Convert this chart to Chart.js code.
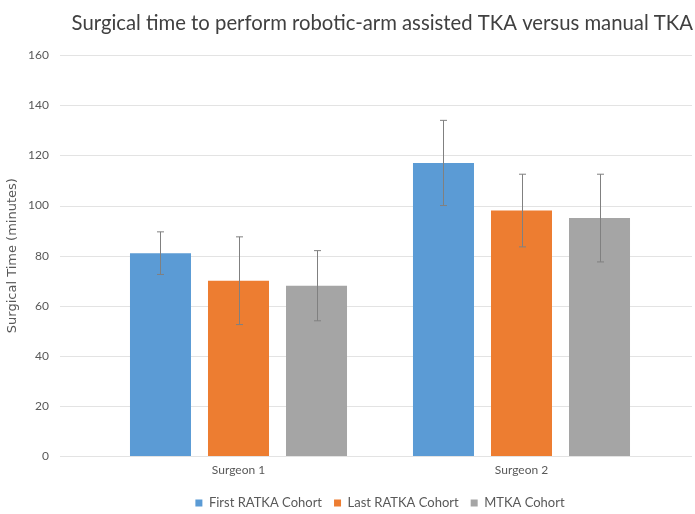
<!DOCTYPE html>
<html>
<head>
<meta charset="utf-8">
<script src="https://cdn.jsdelivr.net/npm/chart.js@4/dist/chart.umd.min.js"></script>
<style>
  html, body { margin: 0; padding: 0; background: #ffffff; }
  #wrap { width: 695px; height: 514px; }
</style>
</head>
<body>
<div id="wrap"><canvas id="c" width="695" height="514"></canvas></div>
<script>
const categories = ["Surgeon 1", "Surgeon 2"];
const seriesNames = ["First RATKA Cohort", "Last RATKA Cohort", "MTKA Cohort"];
const firstRatka = [81, 117];
const lastRatka = [70, 98];
const mtka = [68, 95];
const firstRatkaErr = [8.5, 17];
const lastRatkaErr = [17.5, 14.5];
const mtkaErr = [14, 17.5];
const yTicks = [0, 20, 40, 60, 80, 100, 120, 140, 160];
const titleText = "Surgical time to perform robotic-arm assisted TKA versus manual TKA";
const yTitle = "Surgical Time (minutes)";

const colors = ["#5B9BD5", "#ED7D31", "#A5A5A5"];
const errs = [firstRatkaErr, lastRatkaErr, mtkaErr];
const FONT = "Lato";
const TXT = "#595959";

const gridPlugin = {
  id: "extGrid",
  beforeDatasetsDraw(chart) {
    const ctx = chart.ctx, y = chart.scales.y;
    ctx.save();
    ctx.strokeStyle = "#E3E3E3";
    ctx.lineWidth = 1;
    yTicks.forEach(v => {
      const py = Math.round(y.getPixelForValue(v)) + 0.5;
      ctx.beginPath();
      ctx.moveTo(60, py);
      ctx.lineTo(692, py);
      ctx.stroke();
    });
    ctx.restore();
  }
};

const errPlugin = {
  id: "errBars",
  afterDatasetsDraw(chart) {
    const ctx = chart.ctx, y = chart.scales.y;
    ctx.save();
    ctx.strokeStyle = "#808080";
    ctx.lineWidth = 1;
    chart.data.datasets.forEach((ds, di) => {
      const meta = chart.getDatasetMeta(di);
      meta.data.forEach((bar, i) => {
        const v = ds.data[i], e = errs[di][i];
        const x = Math.round(bar.x) + 0.5;
        const yt = y.getPixelForValue(v + e), yb = y.getPixelForValue(v - e);
        ctx.beginPath();
        ctx.moveTo(x, yt); ctx.lineTo(x, yb);
        ctx.moveTo(x - 3.5, yt); ctx.lineTo(x + 3.5, yt);
        ctx.moveTo(x - 3.5, yb); ctx.lineTo(x + 3.5, yb);
        ctx.stroke();
      });
    });
    ctx.restore();
  }
};

new Chart(document.getElementById("c"), {
  type: "bar",
  data: {
    labels: categories,
    datasets: [
      { label: seriesNames[0], data: firstRatka, backgroundColor: colors[0] },
      { label: seriesNames[1], data: lastRatka, backgroundColor: colors[1] },
      { label: seriesNames[2], data: mtka, backgroundColor: colors[2] }
    ]
  },
  options: {
    responsive: false,
    animation: false,
    devicePixelRatio: 1,
    categoryPercentage: 0.827,
    barPercentage: 0.782,
    layout: { padding: { left: 1, right: 2, top: 0, bottom: -5.5 } },
    plugins: {
      title: {
        display: true,
        text: titleText,
        fullSize: true,
        align: "end",
        color: "#404040",
        font: { family: FONT, size: 20.3, weight: "normal" },
        padding: { top: 5.5, bottom: 20 }
      },
      legend: {
        display: true,
        position: "bottom",
        fullSize: false,
        labels: {
          color: TXT,
          font: { family: FONT, size: 13 },
          boxWidth: 7,
          boxHeight: 7,
          padding: 12
        }
      },
      tooltip: { enabled: false }
    },
    scales: {
      x: {
        grid: { display: false, drawTicks: false },
        border: { display: false },
        ticks: { color: TXT, font: { family: FONT, size: 12 }, padding: 7, maxRotation: 0, autoSkip: false }
      },
      y: {
        min: 0, max: 160,
        afterFit: s => { s.width = 96; },
        grid: { display: false, drawTicks: false },
        border: { display: false },
        ticks: { stepSize: 20, color: TXT, font: { family: FONT, size: 12 }, padding: 48 },
        title: { display: true, text: yTitle, color: TXT, font: { family: "DejaVu Sans", size: 13 }, padding: { top: 4, bottom: 4 } }
      },
      yRight: {
        type: "linear",
        position: "right",
        display: true,
        afterFit: s => { s.width = 30; },
        grid: { display: false, drawTicks: false },
        border: { display: false },
        ticks: { display: false }
      }
    }
  },
  plugins: [gridPlugin, errPlugin]
});
</script>
</body>
</html>
